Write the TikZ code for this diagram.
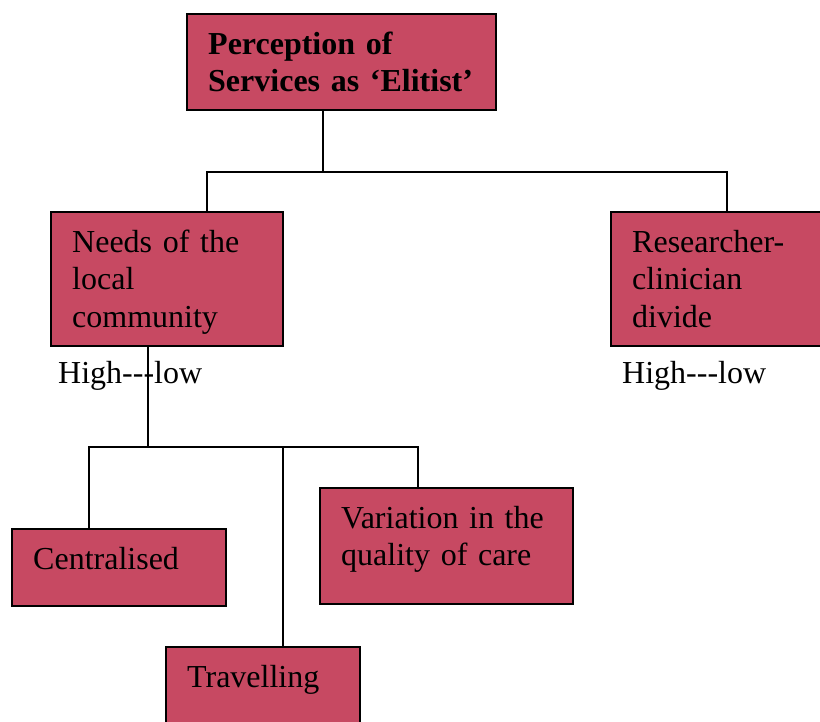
\documentclass[tikz,border=0pt]{standalone}
\usepackage{fontspec}
\setmainfont{Liberation Serif}
\begin{document}
\definecolor{boxred}{RGB}{199,73,98}
\begin{tikzpicture}[x=1pt,y=1pt,
  box/.style={draw=black, fill=boxred, line width=1.8pt, anchor=north west,
    inner sep=0pt, outer sep=0pt},
  lbl/.style={anchor=north west, inner sep=0pt, align=left, text width=300pt,
    font=\fontsize{32}{37.5}\selectfont},
  free/.style={anchor=base west, inner sep=0pt,
    font=\fontsize{32}{37.5}\selectfont},
  link/.style={draw=black, line width=1.8pt, line cap=rect}]
\path[use as bounding box, clip] (0,0) rectangle (820,-721);
\fill[white] (0,0) rectangle (820,-721);

% boxes
\node[box, minimum width=309pt, minimum height=96pt]  (top)   at (187,-14)  {};
\node[box, minimum width=232pt, minimum height=134pt] (needs) at (51,-212)  {};
\node[box, minimum width=215pt, minimum height=134pt] (res)   at (611,-212) {};
\node[box, minimum width=214pt, minimum height=77pt]  (cent)  at (12,-529)  {};
\node[box, minimum width=253pt, minimum height=116pt] (vari)  at (320,-488) {};
\node[box, minimum width=194pt, minimum height=90pt]  (trav)  at (166,-647) {};

% box texts
\node[lbl, font=\fontsize{32}{37.5}\selectfont\bfseries] (ttop) at ([shift={(21,-13.75)}]top.north west)
  {\strut Perception of\\Services as ‘Elitist’};
\node[lbl] (tneeds) at ([shift={(21,-13.75)}]needs.north west) {\strut Needs of the\\local\\community};
\node[lbl] (tres)   at ([shift={(21,-13.75)}]res.north west)   {\strut Researcher-\\clinician\\divide};
\node[lbl] (tcent)  at ([shift={(21,-13.75)}]cent.north west)  {\strut Centralised};
\node[lbl] (tvari)  at ([shift={(21,-13.75)}]vari.north west)  {\strut Variation in the\\quality of care};
\node[lbl] (ttrav)  at ([shift={(21,-13.75)}]trav.north west)  {\strut Travelling};

% scale labels
\node[free] (hl1) at (58,-383)  {High{-}{-}{-}low};
\node[free] (hl2) at (622,-383) {High{-}{-}{-}low};

% junction points
\coordinate (t1) at (323,-172);
\coordinate (l1) at (207,-172);
\coordinate (r1) at (727,-172);
\coordinate (t2) at (148,-447);
\coordinate (c2) at (89,-447);
\coordinate (m2) at (283,-447);
\coordinate (v2) at (418,-447);

% connectors
\draw[link] (top.south -| t1) -- (t1);
\draw[link] (needs.north -| l1) -- (l1) -- (r1) -- (res.north -| r1);
\draw[link] (needs.south -| t2) -- (t2);
\draw[link] (cent.north -| c2) -- (c2) -- (v2) -- (vari.north -| v2);
\draw[link] (m2) -- (trav.north -| m2);
\end{tikzpicture}
\end{document}
